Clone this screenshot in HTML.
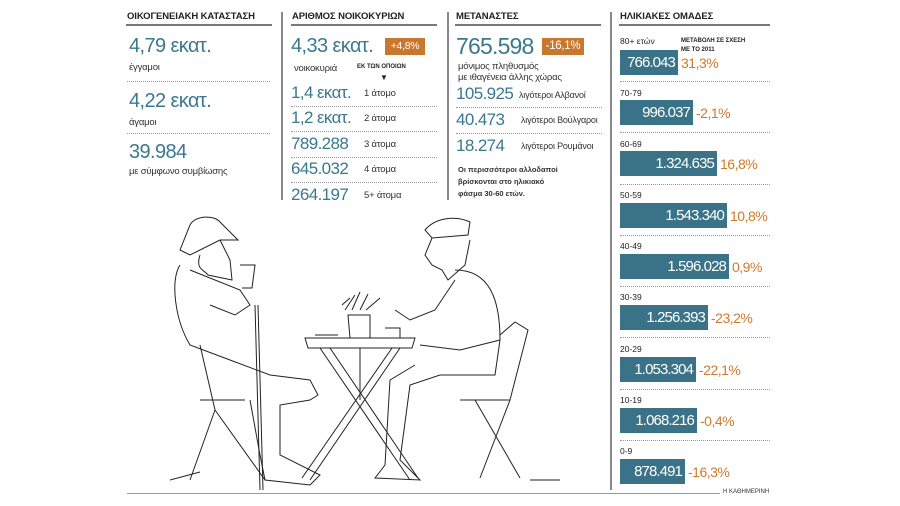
<!DOCTYPE html>
<html><head><meta charset="utf-8"><style>
body{margin:0;background:#fff;}
#c{position:relative;width:900px;height:506px;overflow:hidden;font-family:"Liberation Sans",sans-serif;color:#222;}
.a{position:absolute;white-space:nowrap;}
.h{font-weight:bold;font-size:9.5px;letter-spacing:-0.1px;}
.ul{position:absolute;height:2px;background:#777;}
.vd{position:absolute;width:2px;background:#888;}
.dot{position:absolute;height:0;border-top:1px dotted #999;}
.big{color:#3b7890;font-size:20px;letter-spacing:-0.6px;}
.mid{color:#3b7890;font-size:17px;letter-spacing:-0.6px;}
.sm{font-size:9.5px;color:#333;letter-spacing:-0.2px;}
.ob{position:absolute;background:#c8782e;color:#fff;font-size:10.5px;text-align:center;letter-spacing:-0.3px;}
.bar{position:absolute;background:#3a7388;color:#fff;font-size:15px;letter-spacing:-0.9px;text-align:right;height:25px;line-height:26px;padding-right:3px;box-sizing:border-box;white-space:nowrap;}
.pc{position:absolute;color:#d07a2c;font-size:14px;letter-spacing:-0.5px;}
.lab{position:absolute;font-size:8.5px;color:#222;}
</style></head><body><div id="c">
<!-- col1 -->
<div class="a h" style="left:127px;top:11px">ΟΙΚΟΓΕΝΕΙΑΚΗ ΚΑΤΑΣΤΑΣΗ</div>
<div class="ul" style="left:126px;top:24px;width:146px"></div>
<div class="a big" style="left:129px;top:35px">4,79 εκατ.</div>
<div class="a sm" style="left:129px;top:62px">έγγαμοι</div>
<div class="dot" style="left:127px;top:81px;width:143px"></div>
<div class="a big" style="left:129px;top:90px">4,22 εκατ.</div>
<div class="a sm" style="left:129px;top:117px">άγαμοι</div>
<div class="dot" style="left:127px;top:133px;width:143px"></div>
<div class="a big" style="left:129px;top:141px">39.984</div>
<div class="a sm" style="left:129px;top:166px">με σύμφωνο συμβίωσης</div>
<div class="vd" style="left:281px;top:12px;height:188px"></div>
<!-- col2 -->
<div class="a h" style="left:292px;top:11px">ΑΡΙΘΜΟΣ ΝΟΙΚΟΚΥΡΙΩΝ</div>
<div class="ul" style="left:291px;top:24px;width:146px"></div>
<div class="a big" style="left:291px;top:35px">4,33 εκατ.</div>
<div class="ob" style="left:385px;top:38px;width:40px;height:17px;line-height:17px">+4,8%</div>
<div class="a sm" style="left:294px;top:63px">νοικοκυριά</div>
<div class="a" style="left:357px;top:64px;font-size:6px;font-weight:bold">ΕΚ ΤΩΝ ΟΠΟΙΩΝ</div>
<div class="a" style="left:380px;top:73px;font-size:8px">▼</div>
<div class="a mid" style="left:291px;top:83px">1,4 εκατ.</div><div class="a sm" style="left:364px;top:88px">1 άτομο</div>
<div class="dot" style="left:291px;top:106px;width:146px"></div>
<div class="a mid" style="left:291px;top:108px">1,2 εκατ.</div><div class="a sm" style="left:364px;top:113px">2 άτομα</div>
<div class="dot" style="left:291px;top:131px;width:146px"></div>
<div class="a mid" style="left:291px;top:134px">789.288</div><div class="a sm" style="left:364px;top:139px">3 άτομα</div>
<div class="dot" style="left:291px;top:157px;width:146px"></div>
<div class="a mid" style="left:291px;top:159px">645.032</div><div class="a sm" style="left:364px;top:164px">4 άτομα</div>
<div class="dot" style="left:291px;top:182px;width:146px"></div>
<div class="a mid" style="left:291px;top:185px">264.197</div><div class="a sm" style="left:364px;top:190px">5+ άτομα</div>
<div class="vd" style="left:447px;top:12px;height:188px"></div>
<!-- col3 -->
<div class="a h" style="left:456px;top:11px">ΜΕΤΑΝΑΣΤΕΣ</div>
<div class="ul" style="left:455px;top:24px;width:146px"></div>
<div class="a" style="left:456px;top:33px;font-size:23px;letter-spacing:-0.8px;color:#3b7890">765.598</div>
<div class="ob" style="left:542px;top:38px;width:42px;height:17px;line-height:17px;font-size:11.5px">-16,1%</div>
<div class="a sm" style="left:458px;top:61px">μόνιμος πληθυσμός</div>
<div class="a sm" style="left:458px;top:72px">με ιθαγένεια άλλης χώρας</div>
<div class="a mid" style="left:456px;top:84px">105.925</div><div class="a sm" style="left:519px;top:90px;font-size:9px">λιγότεροι Αλβανοί</div>
<div class="dot" style="left:456px;top:107px;width:146px"></div>
<div class="a mid" style="left:456px;top:110px">40.473</div><div class="a sm" style="left:521px;top:115px;font-size:9px">λιγότεροι Βούλγαροι</div>
<div class="dot" style="left:456px;top:133px;width:146px"></div>
<div class="a mid" style="left:456px;top:136px">18.274</div><div class="a sm" style="left:521px;top:141px;font-size:9px">λιγότεροι Ρουμάνοι</div>
<div class="a" style="left:458px;top:164px;font-size:7.5px;line-height:12px;font-weight:bold;color:#333">Οι περισσότεροι αλλοδαποί<br>βρίσκονται στο ηλικιακό<br>φάσμα 30-60 ετών.</div>
<div class="vd" style="left:610px;top:12px;height:478px"></div>
<!-- col4 -->
<div class="a h" style="left:620px;top:11px">ΗΛΙΚΙΑΚΕΣ ΟΜΑΔΕΣ</div>
<div class="ul" style="left:619px;top:24px;width:151px"></div>
<div class="lab" style="left:620px;top:36px">80+ ετών</div>
<div class="a" style="left:681px;top:37px;font-size:6px;line-height:9px;font-weight:bold">ΜΕΤΑΒΟΛΗ ΣΕ ΣΧΕΣΗ<br>ΜΕ ΤΟ 2011</div>
<div class="bar" style="left:620px;top:50px;width:58px">766.043</div><div class="pc" style="left:681px;top:55px">31,3%</div>
<div class="dot" style="left:620px;top:81px;width:150px"></div>
<div class="lab" style="left:620px;top:88px">70-79</div>
<div class="bar" style="left:620px;top:100px;width:73px">996.037</div><div class="pc" style="left:696px;top:105px">-2,1%</div>
<div class="dot" style="left:620px;top:132px;width:150px"></div>
<div class="lab" style="left:620px;top:139px">60-69</div>
<div class="bar" style="left:620px;top:151px;width:97px">1.324.635</div><div class="pc" style="left:720px;top:156px">16,8%</div>
<div class="dot" style="left:620px;top:184px;width:150px"></div>
<div class="lab" style="left:620px;top:190px">50-59</div>
<div class="bar" style="left:620px;top:203px;width:107px">1.543.340</div><div class="pc" style="left:730px;top:208px">10,8%</div>
<div class="dot" style="left:620px;top:235px;width:150px"></div>
<div class="lab" style="left:620px;top:241px">40-49</div>
<div class="bar" style="left:620px;top:254px;width:109px">1.596.028</div><div class="pc" style="left:732px;top:259px">0,9%</div>
<div class="dot" style="left:620px;top:286px;width:150px"></div>
<div class="lab" style="left:620px;top:292px">30-39</div>
<div class="bar" style="left:620px;top:305px;width:88px">1.256.393</div><div class="pc" style="left:711px;top:310px">-23,2%</div>
<div class="dot" style="left:620px;top:337px;width:150px"></div>
<div class="lab" style="left:620px;top:344px">20-29</div>
<div class="bar" style="left:620px;top:357px;width:76px">1.053.304</div><div class="pc" style="left:699px;top:362px">-22,1%</div>
<div class="dot" style="left:620px;top:389px;width:150px"></div>
<div class="lab" style="left:620px;top:395px">10-19</div>
<div class="bar" style="left:620px;top:408px;width:77px">1.068.216</div><div class="pc" style="left:700px;top:413px">-0,4%</div>
<div class="dot" style="left:620px;top:440px;width:150px"></div>
<div class="lab" style="left:620px;top:446px">0-9</div>
<div class="bar" style="left:620px;top:459px;width:65px">878.491</div><div class="pc" style="left:688px;top:464px">-16,3%</div>
<div style="position:absolute;left:127px;top:493px;width:593px;height:1px;background:#999"></div>
<div class="a" style="left:723px;top:489px;font-size:6px;color:#333">Η ΚΑΘΗΜΕΡΙΝΗ</div>
<!-- illustration -->
<svg style="position:absolute;left:170px;top:210px" width="390" height="290" viewBox="0 0 390 290" fill="none" stroke="#222" stroke-width="1">
<path d="M135 128 L245 128 L242 138 L138 138 Z"/>
<path d="M150 138 L240 270 M160 138 L248 268 M230 138 L140 270 M222 138 L132 268 M190 138 L190 190"/>
<path d="M178 105 L200 105 L200 128 L180 128 Z M175 100 L185 85 M182 100 L190 82 M190 100 L198 84 M196 100 L210 88 M172 95 L180 88"/>
<path d="M145 125 L168 125 M215 118 L230 118 L230 128"/>
<path d="M20 15 C25 5 45 5 50 12 L68 30 L50 30 L20 45 L10 40 Z"/>
<path d="M30 45 C25 60 35 60 38 65 L62 70 L60 50 L50 30"/>
<path d="M10 55 C0 70 5 110 20 135 L60 150 L100 165 L140 170 L148 185 L140 190 L110 195 L110 245 L150 265 L140 275 L95 270 L90 245 L80 190"/>
<path d="M20 60 L70 80 L80 95 L65 105 L40 95 M70 55 L85 55 L82 78 L72 78"/>
<path d="M30 135 L45 200 L20 270 M45 200 L95 270 M30 190 L75 190 M0 270 L30 262"/>
<path d="M85 95 L90 280 M88 95 L93 280"/>
<path d="M255 20 C265 8 285 5 300 12 L298 25 L262 28 Z"/>
<path d="M262 28 L255 45 L262 55 L272 60 L278 70 L295 55 L300 30"/>
<path d="M285 60 C320 60 330 90 330 130 L325 165 L270 165 L240 175 L230 250 L250 270 L205 268 L215 255 L220 170 L245 155"/>
<path d="M285 70 L265 100 L240 110 L225 100 M330 130 L290 140 L250 135"/>
<path d="M330 125 L345 112 L358 120 L340 190 L310 268 M305 190 L350 268 M290 190 L340 190 M360 270 L390 270"/>
</svg>
</div></body></html>
